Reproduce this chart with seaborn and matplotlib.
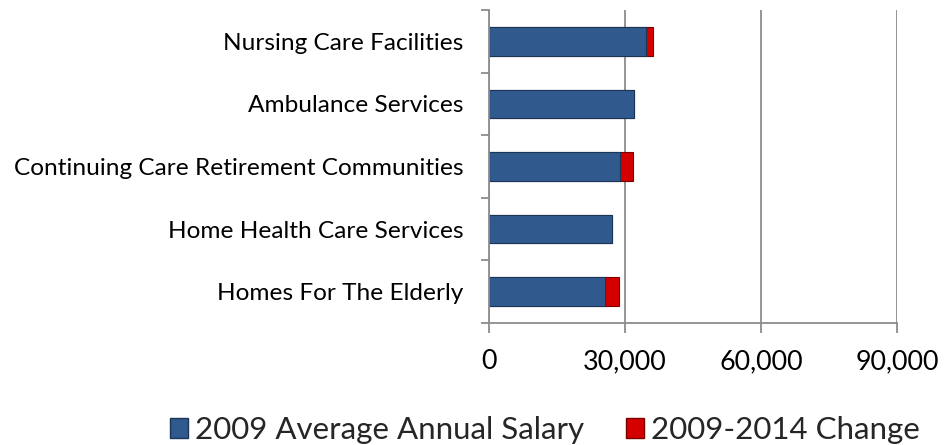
import matplotlib
matplotlib.use("Agg")
import matplotlib.pyplot as plt
import seaborn as sns
import pandas as pd
import numpy as np
from matplotlib.patches import Patch
from matplotlib.ticker import FuncFormatter, FixedLocator

categories = ["Nursing Care Facilities", "Ambulance Services",
              "Continuing Care Retirement Communities",
              "Home Health Care Services", "Homes For The Elderly"]
salary_2009 = [34600, 31900, 28900, 27200, 25600]
change_2009_2014 = [1600, 0, 2800, 0, 3100]
x_ticks = [0, 30000, 60000, 90000]

series_names = ["2009 Average Annual Salary", "2009-2014 Change"]
blue = "#30598E"
blue_edge = "#1B3558"
red = "#D40000"
red_edge = "#7A0000"
grid_col = "#8C8C8C"

sns.set_theme(style="white")
plt.rcParams["font.family"] = ["Lato", "DejaVu Sans"]

df = pd.DataFrame({"category": categories,
                   "salary": salary_2009,
                   "total": np.array(salary_2009) + np.array(change_2009_2014)})

fig = plt.figure(figsize=(9.45, 4.45), dpi=100)
renderer = fig.canvas.get_renderer()


def fit(text, target_px, base=20.0):
    t = fig.text(0, 0, text, fontsize=base)
    w = t.get_window_extent(renderer).width
    t.remove()
    return base * target_px / w


cat_fs = fit("Continuing Care Retirement Communities", 450)
tick_fs = fit("30,000", 84)
leg_fs = fit("2009 Average Annual Salary", 390)

ax = fig.add_axes([489/945, 1-323/445, (897-489)/945, (323-10)/445])

sns.barplot(data=df, y="category", x="total", color=red, orient="h",
            width=0.46, ax=ax, saturation=1, edgecolor=red_edge, linewidth=0.8)
sns.barplot(data=df, y="category", x="salary", color=blue, orient="h",
            width=0.46, ax=ax, saturation=1, edgecolor=blue_edge, linewidth=0.8)

ax.set_xlim(0, 90000)
ax.set_ylim(4.5, -0.5)
ax.xaxis.set_major_locator(FixedLocator(x_ticks))
ax.xaxis.set_major_formatter(FuncFormatter(lambda v, p: f"{int(v):,}"))
ax.grid(axis="x", color=grid_col, linewidth=1.3)
ax.set_axisbelow(True)
ax.set_xlabel("")
ax.set_ylabel("")

for s in ["top", "right"]:
    ax.spines[s].set_visible(False)
for s in ["left", "bottom"]:
    ax.spines[s].set_color(grid_col)
    ax.spines[s].set_linewidth(1.3)

ax.tick_params(axis="x", which="major", length=7.2, width=1.3, color=grid_col,
               labelsize=tick_fs, pad=11.5, direction="out", bottom=True,
               labelcolor="black")
ax.tick_params(axis="y", which="major", length=0, labelsize=cat_fs, pad=18.5,
               labelcolor="black")
ax.set_yticks(np.arange(-0.5, 5.0, 1.0), minor=True)
ax.tick_params(axis="y", which="minor", length=6, width=1.3, color=grid_col,
               direction="out", left=True)

fs_px = leg_fs * 100 / 72
handles = [Patch(facecolor=blue, edgecolor=blue_edge),
           Patch(facecolor=red, edgecolor=red_edge)]
fig.legend(handles, series_names, loc="center",
           bbox_to_anchor=(545/945, 1-430/445),
           ncol=2, frameon=False, fontsize=leg_fs,
           handlelength=18/fs_px, handleheight=20/fs_px,
           handletextpad=7/fs_px, columnspacing=42/fs_px,
           borderpad=0, borderaxespad=0)

fig.savefig("out.png", dpi=100)
